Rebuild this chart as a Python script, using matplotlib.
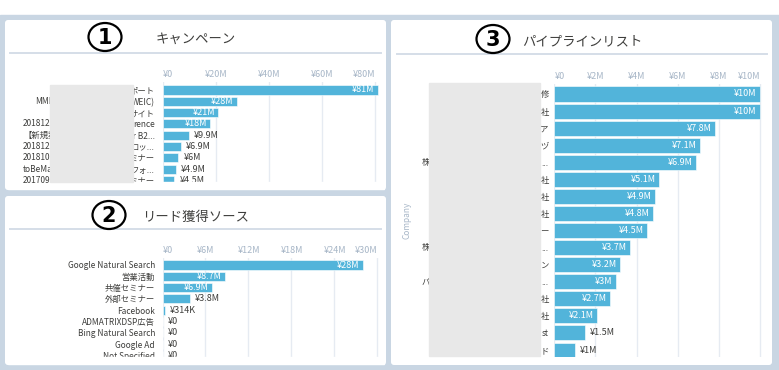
import matplotlib
matplotlib.use("Agg")
import matplotlib.pyplot as plt
from matplotlib.patches import FancyBboxPatch, Rectangle, Ellipse

plt.rcParams['font.family'] = ['Noto Sans CJK JP', 'DejaVu Sans']

W, H = 779, 370

# ---- data (values in millions of yen) ----
camp_vals = [81, 28, 21, 18, 9.9, 6.9, 6, 4.9, 4.5]
camp_labels = ["ポート", "WEIC)", "サイト", "rence", "er B2...", "ロッ...", "ミナー", "フォ...", "ミナー"]
camp_left = ["", "MMI", "", "201812", "【新規案", "201812", "201810", "toBeMa", "201709"]
camp_ticks = [0, 20, 40, 60, 80]

lead_vals = [28, 8.7, 6.9, 3.8, 0.314, 0, 0, 0, 0]
lead_labels = ["Google Natural Search", "営業活動", "共催セミナー", "外部セミナー", "Facebook",
               "ADMATRIXDSP広告", "Bing Natural Search", "Google Ad", "Not Specified"]
lead_ticks = [0, 6, 12, 18, 24, 30]

pipe_vals = [10, 10, 7.8, 7.1, 6.9, 5.1, 4.9, 4.8, 4.5, 3.7, 3.2, 3, 2.7, 2.1, 1.5, 1]
pipe_labels = ["修", "社", "ア", "ヅ", "...", "社", "社", "社", "ー", "...", "ン", "...",
               "社", "社", "st", "ド"]
pipe_left = ["", "", "", "", "株式", "", "", "", "", "株式", "", "パー", "", "", "", ""]
pipe_ticks = [0, 2, 4, 6, 8, 10]

FRAME = "#c9d6e3"
BAR = "#52b4da"
TXT = "#3e3e3c"
TICK = "#a7b6c7"
GRID = "#e6ebf2"
LINE = "#d5dee8"
REDACT = "#e8e8e8"

fig = plt.figure(figsize=(W / 100, H / 100), dpi=100)
fig.patch.set_facecolor("white")

bg = fig.add_axes([0, 0, 1, 1])
bg.set_xlim(0, W)
bg.set_ylim(H, 0)
bg.axis("off")
bg.add_patch(Rectangle((0, 15), W, H - 15, color=FRAME, zorder=0))


def panel(x0, y0, x1, y1):
    bg.add_patch(FancyBboxPatch((x0, y0), x1 - x0, y1 - y0,
                                boxstyle="round,pad=0,rounding_size=3",
                                fc="white", ec="none", zorder=1))


panel(5, 20, 386, 190)
panel(5, 196, 386, 365)
panel(391, 20, 772, 365)


def header(num, cx, cy, title, tx, x0, x1, ly):
    bg.add_patch(Ellipse((cx, cy), 33, 28, fill=False, ec="black", lw=1.6, zorder=3))
    bg.text(cx, cy + 0.5, num, ha="center", va="center", fontsize=15,
            fontweight="bold", family="DejaVu Sans", color="black", zorder=3)
    bg.text(tx, cy + 2, title, ha="center", va="center", fontsize=9.6, color=TXT, zorder=3)
    bg.plot([x0, x1], [ly, ly], color=LINE, lw=1.4, zorder=2)


header("1", 105, 37, "キャンペーン", 196, 10, 381, 53)
header("2", 109, 215, "リード獲得ソース", 196, 10, 381, 229)
header("3", 493, 39, "パイプラインリスト", 582, 397, 767, 54)


def fmt_val(v):
    if v == 0:
        return "¥0"
    if v < 1:
        return "¥%.3gK" % (v * 1000)
    return "¥%.2gM" % v


def bar_panel(vals, labels, ticks, left, right, top, bottom, row0, pitch, xmax, barh, ypad):
    ax = fig.add_axes([left / W, 1 - bottom / H, (right - left) / W, (bottom - top) / H])
    ys = list(range(len(vals)))
    ax.barh(ys, vals, height=barh, color=BAR, edgecolor="white", lw=0.4, zorder=2)
    ax.set_xlim(0, xmax)
    ax.set_ylim((bottom - row0) / pitch, (top - row0) / pitch)
    ax.set_yticks(ys, labels)
    ax.set_xticks(ticks)
    ax.xaxis.tick_top()
    tl = ["¥0" if t == 0 else "¥%dM" % t for t in ticks]
    ax.set_xticklabels(tl)
    lbls = ax.get_xticklabels()
    lbls[0].set_ha("left")
    lbls[-1].set_ha("right")
    ax.tick_params(axis="x", length=0, pad=2, labelsize=6.5, labelcolor=TICK)
    ax.tick_params(axis="y", length=0, pad=ypad, labelsize=6, labelcolor=TXT)
    ax.grid(axis="x", color=GRID, lw=1)
    ax.set_axisbelow(True)
    for s in ax.spines.values():
        s.set_visible(False)
    ax.patch.set_alpha(0)
    vmax = max(vals)
    for i, v in enumerate(vals):
        if v >= 0.2 * vmax:
            ax.annotate(fmt_val(v), (v, i), xytext=(-2.5, 0), textcoords="offset points",
                        ha="right", va="center", fontsize=6.5, color="white", zorder=3)
        else:
            ax.annotate(fmt_val(v), (v, i), xytext=(3.5, 0), textcoords="offset points",
                        ha="left", va="center", fontsize=6.5, color=TXT, zorder=3)
    return ax


bar_panel(camp_vals, camp_labels, camp_ticks, 162.5, 380, 82, 182, 90, 11.29, 81.9, 0.8, 5.4)
bar_panel(lead_vals, lead_labels, lead_ticks, 162.5, 380, 258, 357, 265, 11.3, 30.35, 0.8, 5.4)
bar_panel(pipe_vals, pipe_labels, pipe_ticks, 554.3, 762, 84, 357, 94, 17.07, 10.1, 0.88, 4.0)

# overlay: clipped rows, redaction boxes, partly hidden labels
ov = fig.add_axes([0, 0, 1, 1])
ov.set_zorder(10)
ov.patch.set_alpha(0)
ov.set_xlim(0, W)
ov.set_ylim(H, 0)
ov.axis("off")

ov.add_patch(Rectangle((8, 181.5), 376, 7, color="white", zorder=1))
ov.add_patch(Rectangle((8, 356.5), 376, 7, color="white", zorder=1))

for i, s in enumerate(camp_left):
    if s:
        x = 35 if s.startswith("MM") else 23
        ov.text(x, 90 + i * 11.29, s, ha="left", va="center", fontsize=6, color=TXT, zorder=2)
for i, s in enumerate(pipe_left):
    if s:
        ov.text(421.5, 94 + i * 17.07, s, ha="left", va="center", fontsize=6, color=TXT, zorder=2)

ov.add_patch(Rectangle((50, 85), 83, 97, color=REDACT, zorder=3))
ov.add_patch(Rectangle((429, 83), 111.5, 273, color=REDACT, zorder=3))

ov.text(407, 220, "Company", rotation=90, ha="center", va="center", fontsize=6, color=TICK, zorder=2)

fig.savefig("out.png", dpi=100)
